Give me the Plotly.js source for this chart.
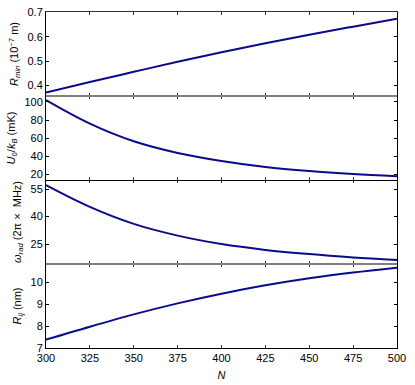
<!DOCTYPE html>
<html>
<head>
<meta charset="utf-8">
<script src="https://cdn.plot.ly/plotly-3.0.1.min.js"></script>
<style>html,body{margin:0;padding:0;background:#fff;}#chart{width:415px;height:385px;}</style>
</head>
<body>
<div id="chart"></div>
<script>
const N = [300, 325, 350, 375, 400, 425, 450, 475, 500];
const Rmin = [0.371, 0.414, 0.456, 0.497, 0.536, 0.573, 0.608, 0.641, 0.673];
const U0 = [102.0, 76.0, 56.5, 43.6, 34.7, 28.1, 23.6, 20.3, 17.8];
const omegaRad = [57.2, 45.3, 36.0, 29.6, 25.0, 21.8, 19.5, 17.7, 16.3];
const Rij = [7.38, 7.97, 8.53, 9.03, 9.47, 9.85, 10.17, 10.43, 10.65];

const lineStyle = {color: '#0a0a8c', width: 2, shape: 'spline', smoothing: 1};
const fam = 'Liberation Sans, Arial, sans-serif';
const font = {family: fam, size: 11, color: '#000'};

const traces = [
  {x: N, y: Rmin, xaxis: 'x', yaxis: 'y', mode: 'lines', line: lineStyle},
  {x: N, y: U0, xaxis: 'x2', yaxis: 'y2', mode: 'lines', line: lineStyle},
  {x: N, y: omegaRad, xaxis: 'x3', yaxis: 'y3', mode: 'lines', line: lineStyle},
  {x: N, y: Rij, xaxis: 'x4', yaxis: 'y4', mode: 'lines', line: lineStyle}
];

function xa(anchor, showLabels, lineColor) {
  return {
    anchor: anchor, range: [300, 500], tickvals: [300, 325, 350, 375, 400, 425, 450, 475, 500],
    ticks: 'inside', ticklen: 3, tickcolor: '#333', showticklabels: showLabels,
    showline: true, linecolor: lineColor, linewidth: 1, mirror: 'ticks', showgrid: false, zeroline: false,
    tickfont: font
  };
}
function ya(anchor, domain, range, tickvals, titleText) {
  return {
    anchor: anchor, domain: domain, range: range, tickvals: tickvals,
    ticks: 'inside', ticklen: 3, tickcolor: '#000',
    showline: true, linecolor: '#000', linewidth: 1, mirror: 'ticks', showgrid: false, zeroline: false,
    tickfont: font,
    title: {text: titleText, font: {family: fam, size: 11, color: '#000'}, standoff: 6}
  };
}

const layout = {
  width: 415, height: 385,
  margin: {l: 46, r: 18, t: 12, b: 37},
  paper_bgcolor: '#fff', plot_bgcolor: 'rgba(0,0,0,0)',
  showlegend: false,
  font: font,
  xaxis: xa('y', false, '#333'),
  xaxis2: Object.assign(xa('y2', false, 'rgba(0,0,0,0)'), {matches: 'x'}),
  xaxis3: Object.assign(xa('y3', false, 'rgba(0,0,0,0)'), {matches: 'x'}),
  xaxis4: Object.assign(xa('y4', true, '#000'), {matches: 'x', title: {text: '<i>N</i>', font: {family: fam, size: 11, color: '#000'}, standoff: 8}}),
  yaxis: ya('x', [0.75, 1.0], [0.357, 0.701], [0.4, 0.5, 0.6, 0.7], '<i>R</i><sub><i>min</i></sub> (10<sup>−7</sup> m)'),
  yaxis2: ya('x2', [0.5, 0.75], [13.7, 106.6], [20, 40, 60, 80, 100], '<i>U</i><sub>0</sub>/<i>k</i><sub><i>B</i></sub> (mK)'),
  yaxis3: ya('x3', [0.25, 0.5], [14.1, 60], [25, 40, 55], '<i>ω</i><sub><i>rad</i></sub> (2π ×  MHz)'),
  yaxis4: ya('x4', [0.0, 0.25], [7, 10.82], [7, 8, 9, 10], '<i>R</i><sub><i>ij</i></sub> (nm)'),
  shapes: [
    {type: 'line', xref: 'paper', yref: 'paper', x0: 0, x1: 1, y0: 0.75, y1: 0.75, layer: 'above', line: {color: '#808080', width: 2}},
    {type: 'line', xref: 'paper', yref: 'paper', x0: 0, x1: 1, y0: 0.25, y1: 0.25, layer: 'above', line: {color: '#808080', width: 2}},
    {type: 'rect', xref: 'paper', yref: 'paper', ysizemode: 'pixel', yanchor: 0.5, x0: 0, x1: 1, y0: -1, y1: 0, layer: 'above', fillcolor: '#000', line: {width: 0}}
  ]
};

Plotly.newPlot('chart', traces, layout, {displayModeBar: false, staticPlot: true});
</script>
</body>
</html>
